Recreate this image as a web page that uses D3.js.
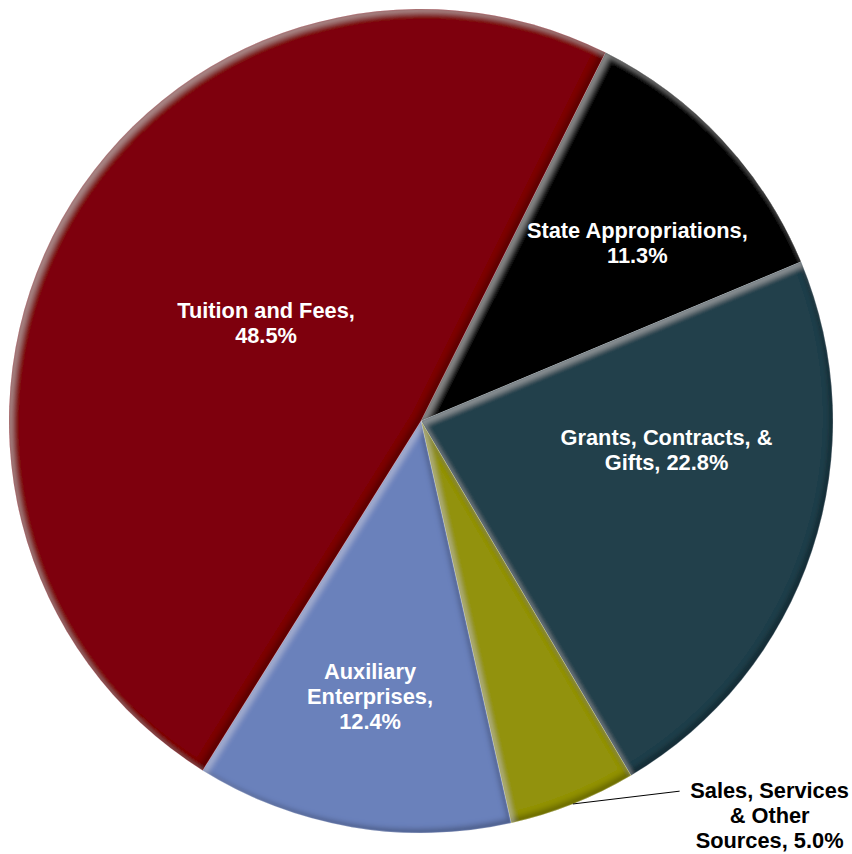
<!DOCTYPE html>
<html>
<head>
<meta charset="utf-8">
<script src="https://cdn.jsdelivr.net/npm/d3@7"></script>
<style>
  html, body { margin: 0; padding: 0; background: #ffffff; }
  svg { display: block; }
  text { font-family: "Liberation Sans", Arial, Helvetica, sans-serif; font-weight: bold; }
</style>
</head>
<body>
<svg id="chart" width="852" height="854"></svg>
<script>
// ---- data ----
const categories = ["State Appropriations", "Grants, Contracts, & Gifts", "Sales, Services & Other Sources", "Auxiliary Enterprises", "Tuition and Fees"];
const values = [11.3, 22.8, 5.0, 12.4, 48.5];
const labelLines = [
  ["State Appropriations,", "11.3%"],
  ["Grants, Contracts, &", "Gifts, 22.8%"],
  ["Sales, Services", "& Other", "Sources, 5.0%"],
  ["Auxiliary", "Enterprises,", "12.4%"],
  ["Tuition and Fees,", "48.5%"]
];
const colors = ["#060606", "#243f4c", "#929210", "#6b81bb", "#7e0510"];

// ---- layout ----
const W = 852, H = 854;
const cx = 421, cy = 421, R = 412;
const startDeg = 26.6;
const rad = d => d * Math.PI / 180;
// label placement: radius factor and angle adjustment (deg) relative to slice middle
const labelLayout = [
  { rf: 0.68, da: 3.6, color: "#ffffff" },
  { rf: 0.60, da: -11.6, color: "#ffffff" },
  { outside: true, rf: 1.096, da: -13.3, color: "#000000" },
  { rf: 0.68, da: 0.8, color: "#ffffff" },
  { rf: 0.445, da: 3.0, color: "#ffffff" }
];
const fontSize = 21.8, lineH = 25;

const svg = d3.select("#chart");
const defs = svg.append("defs");

// bevel filter: highlight top-left edges, shade bottom-right edges
const f = defs.append("filter").attr("id", "bevel")
  .attr("x", "-5%").attr("y", "-5%").attr("width", "110%").attr("height", "110%");
f.append("feGaussianBlur").attr("in", "SourceAlpha").attr("stdDeviation", 2.5).attr("result", "blur");
f.append("feOffset").attr("in", "blur").attr("dx", 4).attr("dy", 4).attr("result", "offHL");
f.append("feComposite").attr("in", "SourceAlpha").attr("in2", "offHL").attr("operator", "out").attr("result", "hlMask");
f.append("feGaussianBlur").attr("in", "hlMask").attr("stdDeviation", 1).attr("result", "hlMaskB");
f.append("feFlood").attr("flood-color", "#ffffff").attr("flood-opacity", 0.25).attr("result", "white");
f.append("feComposite").attr("in", "white").attr("in2", "hlMaskB").attr("operator", "in").attr("result", "hl");
f.append("feOffset").attr("in", "blur").attr("dx", -4).attr("dy", -4).attr("result", "offSH");
f.append("feComposite").attr("in", "SourceAlpha").attr("in2", "offSH").attr("operator", "out").attr("result", "shMask");
f.append("feGaussianBlur").attr("in", "shMask").attr("stdDeviation", 1).attr("result", "shMaskB");
f.append("feFlood").attr("flood-color", "#000000").attr("flood-opacity", 0.5).attr("result", "black");
f.append("feComposite").attr("in", "black").attr("in2", "shMaskB").attr("operator", "in").attr("result", "sh");
f.append("feComposite").attr("in", "hl").attr("in2", "SourceAlpha").attr("operator", "in").attr("result", "hl2");
f.append("feComposite").attr("in", "sh").attr("in2", "SourceAlpha").attr("operator", "in").attr("result", "sh2");
const m = f.append("feMerge");
m.append("feMergeNode").attr("in", "SourceGraphic");
m.append("feMergeNode").attr("in", "sh2");
m.append("feMergeNode").attr("in", "hl2");

const pie = d3.pie().sort(null).value(d => d)
  .startAngle(rad(startDeg)).endAngle(rad(startDeg + 360));
const arcs = pie(values);
const arc = d3.arc().innerRadius(0).outerRadius(R);

const g = svg.append("g").attr("transform", `translate(${cx},${cy})`);

g.selectAll("path.slice").data(arcs).enter().append("path")
  .attr("class", "slice")
  .attr("d", arc)
  .attr("fill", (d, i) => colors[i])
  .attr("stroke", "rgba(255,255,255,0.35)")
  .attr("stroke-width", 0.8)
  .attr("filter", "url(#bevel)");

function polar(angle, r) {
  return [r * Math.sin(angle), -r * Math.cos(angle)];
}

arcs.forEach((d, i) => {
  const L = labelLayout[i];
  const mid = (d.startAngle + d.endAngle) / 2;
  const lines = labelLines[i];
  let x, y;
  if (L.outside) {
    const p0 = polar(mid, R);
    const p1 = polar(mid + rad(L.da), R * L.rf);
    g.append("line")
      .attr("x1", p0[0]).attr("y1", p0[1])
      .attr("x2", p1[0]).attr("y2", p1[1])
      .attr("stroke", "#000").attr("stroke-width", 1);
    x = p1[0] + 90;
    y = p1[1] + 24;
  } else {
    const p = polar(mid + rad(L.da), R * L.rf);
    x = p[0]; y = p[1];
  }
  const t = g.append("text")
    .attr("text-anchor", "middle")
    .attr("font-size", fontSize)
    .attr("fill", L.color);
  const firstBase = y - (lines.length - 1) * lineH / 2 + 7.5;
  lines.forEach((ln, k) => {
    t.append("tspan").attr("x", x).attr("y", firstBase + k * lineH).text(ln);
  });
});
</script>
</body>
</html>
